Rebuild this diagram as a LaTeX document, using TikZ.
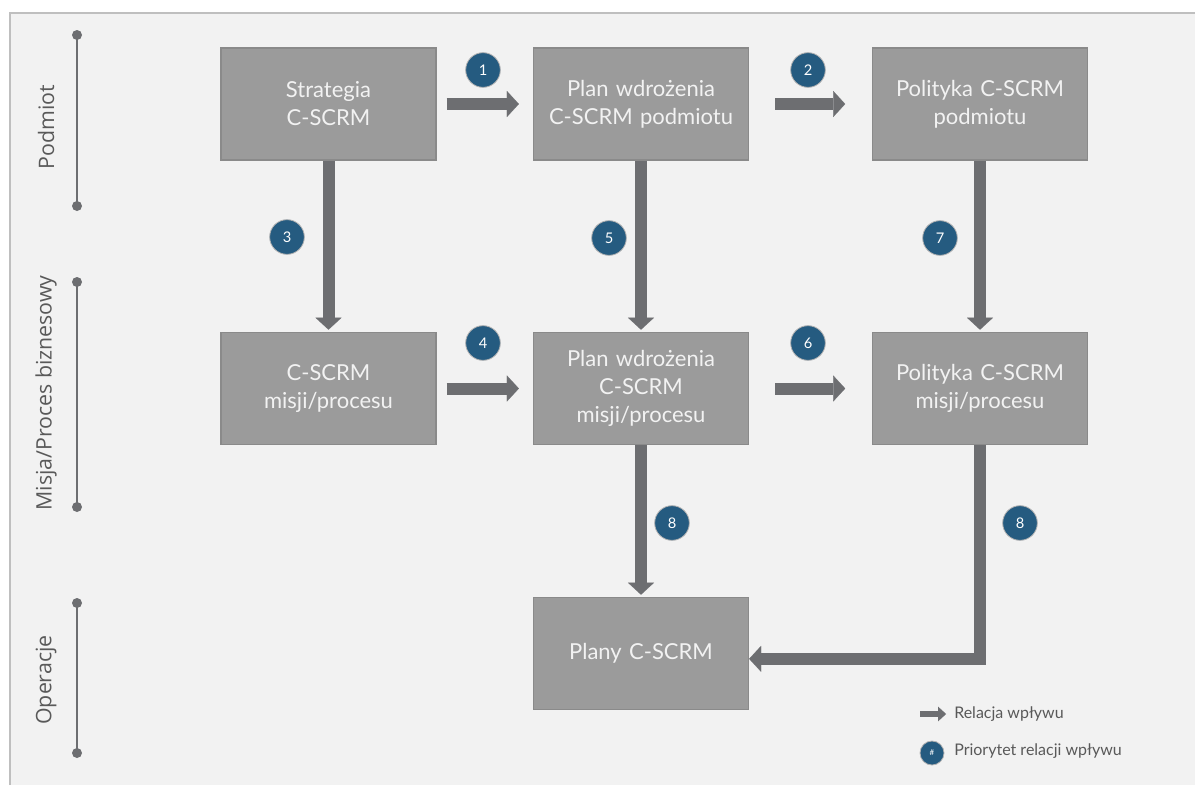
\documentclass[tikz,border=0pt]{standalone}
\usepackage{fontspec}
\setmainfont{Lato}
\newfontfamily\sidefont{Open Sans}
\usetikzlibrary{arrows.meta,positioning}

\definecolor{panelbg}{HTML}{F2F2F2}
\definecolor{panelline}{HTML}{BFBFBF}
\definecolor{boxfill}{HTML}{9B9B9B}
\definecolor{boxline}{HTML}{8A8A8A}
\definecolor{arrowgray}{HTML}{6D6E71}
\definecolor{badgeblue}{HTML}{255B80}
\definecolor{textgray}{HTML}{595959}

\tikzset{
    block/.style={draw=boxline, fill=boxfill, line width=1.2pt,
        minimum width=161pt, minimum height=84pt, text width=155pt,
        align=center, inner sep=0pt, text=panelbg,
        font=\fontsize{16.5}{21}\selectfont},
    flow/.style={draw=arrowgray, line width=9pt,
        -{Triangle[length=9pt,width=19.5pt,line width=0.1pt]}},
    legflow/.style={draw=arrowgray, line width=5pt,
        -{Triangle[length=6pt,width=11pt,line width=0.1pt]}},
    badge/.style={circle, fill=badgeblue, draw=gray!60, line width=0.6pt,
        minimum size=26pt, inner sep=0pt, text=white,
        font=\fontsize{11}{12}\selectfont},
    tier/.style={rotate=90, text=textgray,
        font=\sidefont\fontsize{16}{18}\selectfont},
    legtext/.style={anchor=west, text=textgray, inner sep=0pt,
        font=\fontsize{12}{14}\selectfont}
}

\begin{document}
\begin{tikzpicture}[x=0.75pt, y=-0.75pt]

    % page and panel
    \useasboundingbox (0,0) rectangle (1195,785);
    \fill[panelbg] (10,13) rectangle (1195,785);
    \draw[panelline, line width=1.5pt] (10,785) -- (10,13) -- (1195,13);

    % tiers on the left
    \foreach \name/\top/\bot/\mid/\lab in {
        pod/35/206/127/Podmiot,
        mis/282/507/393/{Misja/Proces biznesowy},
        ope/603/753/680/Operacje} {
        \coordinate (\name-a) at (77,\top);
        \coordinate (\name-b) at (77,\bot);
        \draw[arrowgray, line width=1.5pt] (\name-a) -- (\name-b);
        \fill[arrowgray] (\name-a) circle (3.75pt) (\name-b) circle (3.75pt);
        \node[tier] (\name-l) at (46,\mid) {\lab};
    }

    % blocks
    \node[block] (strat) at (328.5,104) {Strategia\\C-SCRM};
    \node[block] (planpod) at (641,104) {Plan wdrożenia\\C-SCRM podmiotu};
    \node[block] (polpod) at (980,104) {Polityka C-SCRM\\podmiotu};
    \node[block] (misja) at (328.5,388.5) {C-SCRM\\misji/procesu};
    \node[block] (planmis) at (641,388.5) {Plan wdrożenia\\C-SCRM\\misji/procesu};
    \node[block] (polmis) at (980,388.5) {Polityka C-SCRM\\misji/procesu};
    \node[block] (plany) at (641,653.5) {Plany C-SCRM};

    % influence relations
    \draw[flow, shorten <=7.5pt, shorten >=10.5pt] (strat.east) -- (planpod.west);
    \draw[flow, shorten <=19.5pt, shorten >=20pt] (planpod.east) -- (polpod.west);
    \draw[flow, shorten <=7.5pt, shorten >=10.5pt] (misja.east) -- (planmis.west);
    \draw[flow, shorten <=19.5pt, shorten >=20pt] (planmis.east) -- (polmis.west);
    \draw[flow, shorten >=1.5pt] (strat.south) -- (misja.north);
    \draw[flow, shorten >=1.5pt] (planpod.south) -- (planmis.north);
    \draw[flow, shorten >=1.5pt] (polpod.south) -- (polmis.north);
    \draw[flow, shorten >=1.5pt] (planmis.south) -- (plany.north);
    \draw[flow] (polmis.south) |- ([yshift=-4pt]plany.east);

    % priorities
    \foreach \tag/\n/\x/\y in {1/1/483/70, 2/2/808/70, 3/3/287/237,
        4/4/483/343, 5/5/609/238, 6/6/808/343, 7/7/940/238,
        8/8/672/523, 9/8/1020/523} {
        \node[badge] (b\tag) at (\x,\y) {\n};
    }

    % legend
    \coordinate (leg-a) at (920,714);
    \coordinate (leg-b) at (946,714);
    \draw[legflow] (leg-a) -- (leg-b);
    \node[legtext] (leg-t1) at (954,714) {Relacja wpływu};
    \node[badge, minimum size=18pt, font=\fontsize{6}{7}\selectfont] (leg-c) at (932,753) {\#};
    \node[legtext] (leg-t2) at (954,751) {Priorytet relacji wpływu};

\end{tikzpicture}
\end{document}
